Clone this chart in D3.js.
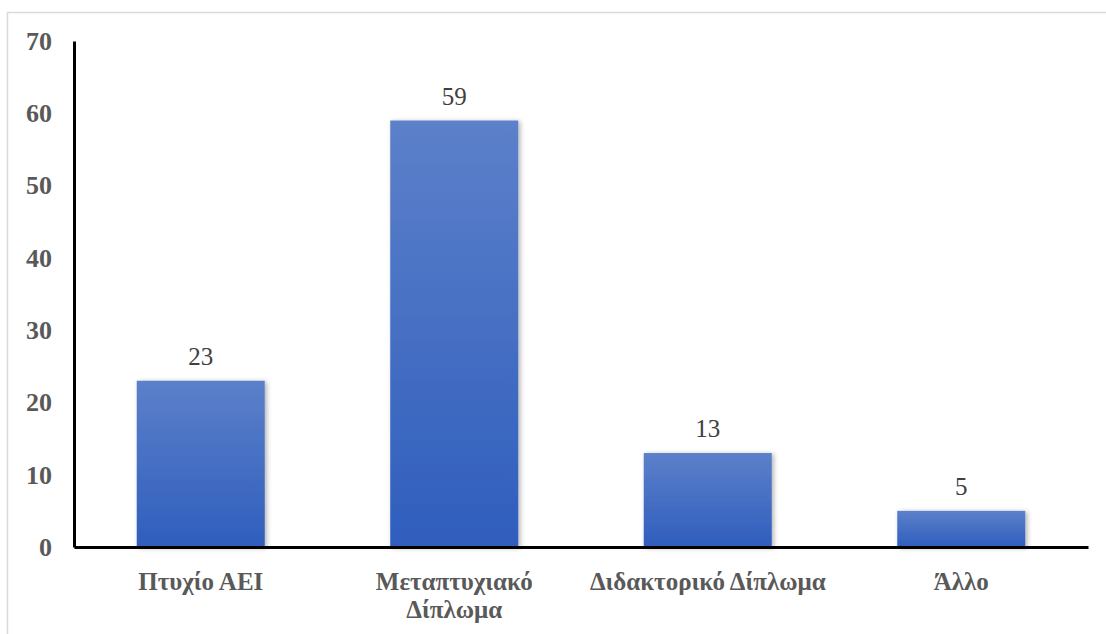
<!DOCTYPE html>
<html>
<head>
<meta charset="utf-8">
<script src="https://cdn.jsdelivr.net/npm/d3@7"></script>
<style>
  html, body { margin: 0; padding: 0; background: #fff; }
  svg { display: block; }
</style>
</head>
<body>
<div id="chart"></div>
<script>
// Qualification levels and counts
const categories = ["Πτυχίο ΑΕΙ", "Μεταπτυχιακό Δίπλωμα", "Διδακτορικό Δίπλωμα", "Άλλο"];
const values = [23, 59, 13, 5];
const yTicks = [0, 10, 20, 30, 40, 50, 60, 70];

const W = 1106, H = 634;
const margin = { left: 74, right: 18, top: 41, bottom: 87 };
const serif = "'Liberation Serif', 'Times New Roman', serif";

const svg = d3.select("#chart").append("svg")
  .attr("width", W).attr("height", H);

const defs = svg.append("defs");
const grad = defs.append("linearGradient")
  .attr("id", "barFill").attr("x1", 0).attr("y1", 0).attr("x2", 0).attr("y2", 1);
grad.append("stop").attr("offset", "0%").attr("stop-color", "#5c80ca");
grad.append("stop").attr("offset", "100%").attr("stop-color", "#2f5ebd");

const shadow = defs.append("filter").attr("id", "barShadow")
  .attr("x", "-20%").attr("y", "-20%").attr("width", "140%").attr("height", "140%");
shadow.append("feDropShadow")
  .attr("dx", 2).attr("dy", 1).attr("stdDeviation", 2.5)
  .attr("flood-color", "#000").attr("flood-opacity", 0.3);

// outer frame
svg.append("rect")
  .attr("x", 7.5).attr("y", 12.5).attr("width", W + 20).attr("height", H + 20)
  .attr("fill", "none").attr("stroke", "#d9d9d9").attr("stroke-width", 1.5);

const x = d3.scaleBand()
  .domain(categories)
  .range([margin.left, W - margin.right])
  .paddingInner(0.495).paddingOuter(0.2475);

const y = d3.scaleLinear()
  .domain([0, 70])
  .range([H - margin.bottom, margin.top]);

// bars
svg.append("g").selectAll("rect")
  .data(values)
  .join("rect")
  .attr("x", (d, i) => x(categories[i]))
  .attr("y", d => y(d))
  .attr("width", x.bandwidth())
  .attr("height", d => y(0) - y(d))
  .attr("fill", "url(#barFill)")
  .attr("filter", "url(#barShadow)");

// value labels
svg.append("g").selectAll("text")
  .data(values)
  .join("text")
  .attr("x", (d, i) => x(categories[i]) + x.bandwidth() / 2)
  .attr("y", d => y(d) - 16)
  .attr("text-anchor", "middle")
  .attr("font-family", serif)
  .attr("font-size", 25)
  .attr("fill", "#404040")
  .text(d => d);

// y axis
const yAxis = svg.append("g")
  .attr("transform", `translate(${margin.left},0)`)
  .call(d3.axisLeft(y).tickValues(yTicks).tickSize(0).tickPadding(22));
yAxis.select(".domain").attr("stroke", "#000").attr("stroke-width", 3);
yAxis.selectAll("text")
  .attr("font-family", serif)
  .attr("font-size", 26)
  .attr("font-weight", "bold")
  .attr("fill", "#595959");

// x axis
const xAxis = svg.append("g")
  .attr("transform", `translate(0,${y(0)})`)
  .call(d3.axisBottom(x).tickSize(0).tickPadding(0));
xAxis.select(".domain").attr("stroke", "#000").attr("stroke-width", 3);
xAxis.selectAll("text").remove();

// category labels, wrapped to fit the band
const maxLabelWidth = 250;
xAxis.selectAll(".tick").each(function (cat) {
  const g = d3.select(this);
  const t = g.append("text")
    .attr("text-anchor", "middle")
    .attr("font-family", serif)
    .attr("font-size", 25)
    .attr("font-weight", "bold")
    .attr("fill", "#595959");
  const words = cat.split(" ");
  let lines = [words[0]];
  for (let k = 1; k < words.length; k++) {
    const trial = lines[lines.length - 1] + " " + words[k];
    t.text(trial);
    if (t.node().getComputedTextLength() > maxLabelWidth) lines.push(words[k]);
    else lines[lines.length - 1] = trial;
  }
  t.text(null);
  lines.forEach((ln, j) => {
    t.append("tspan").attr("x", 0).attr("y", 43 + j * 28).text(ln);
  });
});
</script>
</body>
</html>
